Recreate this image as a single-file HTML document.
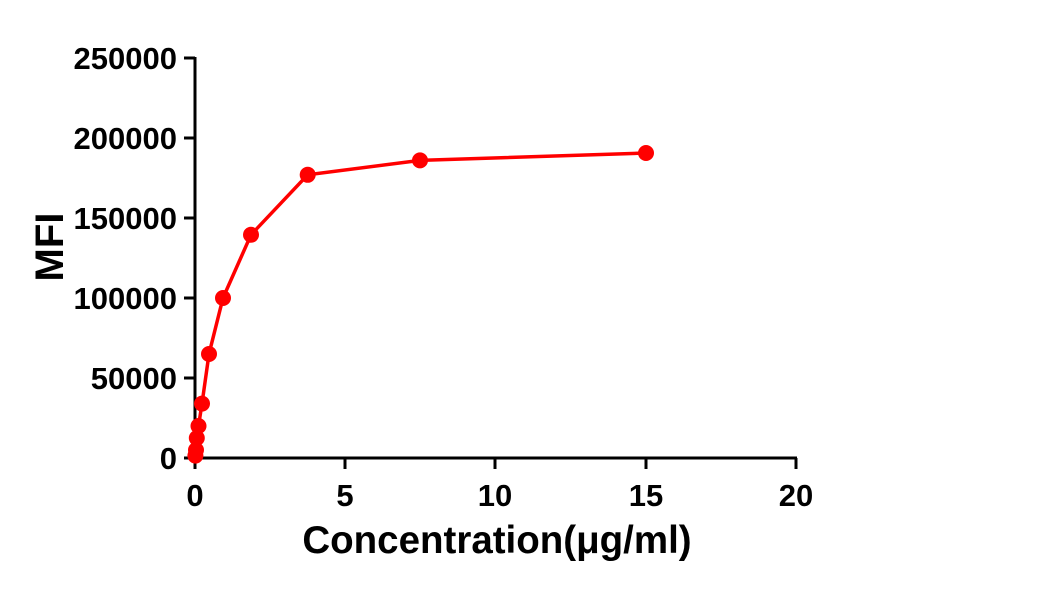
<!DOCTYPE html>
<html><head><style>body{margin:0;background:#fff}</style></head><body>
<svg width="1038" height="588" xmlns="http://www.w3.org/2000/svg" font-family="Liberation Sans, sans-serif" font-weight="bold">
<g stroke="#000" stroke-width="3" fill="none">
<line x1="195" y1="57" x2="195" y2="458"/>
<line x1="194" y1="458" x2="797" y2="458"/>
<line x1="184" y1="58" x2="195" y2="58"/>
<line x1="184" y1="138" x2="195" y2="138"/>
<line x1="184" y1="218" x2="195" y2="218"/>
<line x1="184" y1="298" x2="195" y2="298"/>
<line x1="184" y1="378" x2="195" y2="378"/>
<line x1="184" y1="458" x2="195" y2="458"/>
<line x1="195" y1="458" x2="195" y2="469"/>
<line x1="345" y1="458" x2="345" y2="469"/>
<line x1="495" y1="458" x2="495" y2="469"/>
<line x1="646" y1="458" x2="646" y2="469"/>
<line x1="796" y1="458" x2="796" y2="469"/>
</g>
<g font-size="31" text-anchor="end" fill="#000">
<text x="177" y="69">250000</text>
<text x="177" y="149">200000</text>
<text x="177" y="229">150000</text>
<text x="177" y="309">100000</text>
<text x="177" y="389">50000</text>
<text x="177" y="469">0</text>
</g>
<g font-size="31" text-anchor="middle" fill="#000">
<text x="195" y="506">0</text>
<text x="345" y="506">5</text>
<text x="495" y="506">10</text>
<text x="646" y="506">15</text>
<text x="796" y="506">20</text>
</g>
<text x="497" y="553" font-size="38.5" text-anchor="middle">Concentration(μg/ml)</text>
<text transform="translate(63,247) rotate(-90)" font-size="40" text-anchor="middle">MFI</text>
<polyline fill="none" stroke="#f00" stroke-width="3.5" points="195.4,455.6 196,450 196.8,438 198.5,426 202,403.6 209,354 223,298 251,234.8 307.7,174.8 420,160.4 646,153"/>
<g fill="#f00">
<circle cx="195.4" cy="455.6" r="8"/><circle cx="196" cy="450" r="8"/><circle cx="196.8" cy="438" r="8"/><circle cx="198.5" cy="426" r="8"/><circle cx="202" cy="403.6" r="8"/><circle cx="209" cy="354" r="8"/><circle cx="223" cy="298" r="8"/><circle cx="251" cy="234.8" r="8"/><circle cx="307.7" cy="174.8" r="8"/><circle cx="420" cy="160.4" r="8"/><circle cx="646" cy="153" r="8"/>
</g>
</svg>
</body></html>
